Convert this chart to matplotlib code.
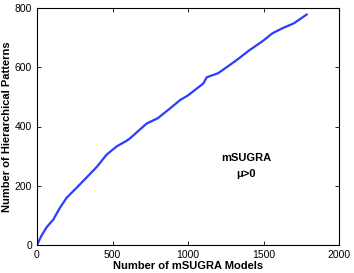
import matplotlib
matplotlib.use('Agg')
from matplotlib import pyplot as plt

models = [0, 30, 64, 108, 150, 197, 260, 329, 400, 461, 528, 594, 616, 726, 800, 881,
          947, 1000, 1101, 1124, 1200, 1322, 1400, 1499, 1560, 1631, 1700, 1786]
patterns = [0, 32, 60, 86, 124, 160, 192, 228, 266, 305, 333, 352, 360, 410, 428, 461,
            489, 505, 545, 566, 580, 624, 655, 690, 715, 733, 748, 778]

plt.rcParams['font.family'] = ['Liberation Sans', 'DejaVu Sans']

fig = plt.figure(figsize=(3.54, 2.73), dpi=100)
ax = fig.add_axes([37/354, 28/273, 302/354, 237/273])
ax.plot(models, patterns, color='#2a3cff', linewidth=1.6)

ax.set_xlim(0, 2000)
ax.set_ylim(0, 800)
ax.set_xticks([0, 500, 1000, 1500, 2000])
ax.set_yticks([0, 200, 400, 600, 800])
ax.tick_params(direction='in', top=True, right=True, labelsize=7.5, length=3, width=0.6)
for s in ax.spines.values():
    s.set_linewidth(0.8)

ax.set_xlabel('Number of mSUGRA Models', fontsize=8, fontweight='bold', labelpad=1)
ax.set_ylabel('Number of Hierarchical Patterns', fontsize=8, fontweight='bold', labelpad=2)

ax.text(1384, 294, 'mSUGRA', ha='center', va='center', fontsize=8, fontweight='bold')
ax.text(1384, 240, 'μ>0', ha='center', va='center', fontsize=8, fontweight='bold')

fig.savefig('out.png', dpi=100)
